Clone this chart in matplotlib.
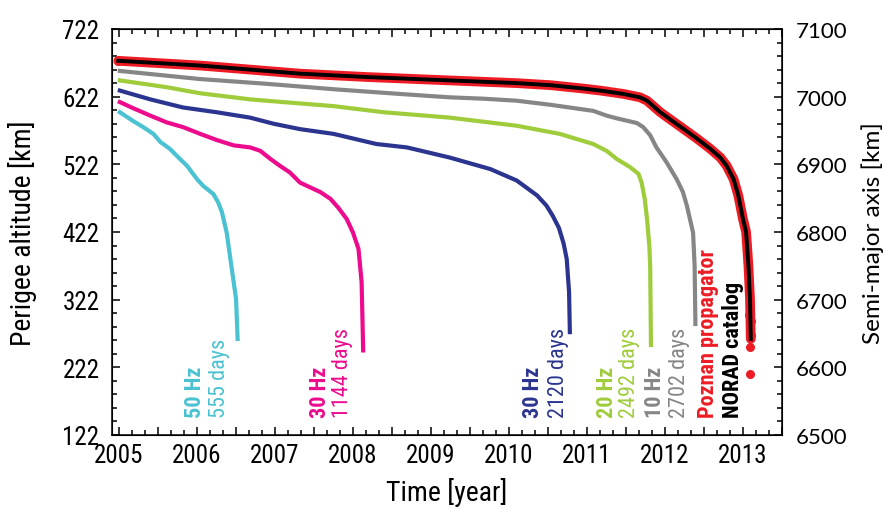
import matplotlib
matplotlib.use('Agg')
import matplotlib.pyplot as plt
from matplotlib.ticker import MultipleLocator, FixedLocator, FuncFormatter

plt.rcParams['font.family'] = ['Roboto Condensed', 'Roboto', 'DejaVu Sans']

# Perigee altitude decay curves [year, km]
hz50_t = [2005.01, 2005.18, 2005.31, 2005.44, 2005.53, 2005.65, 2005.78, 2005.87, 2006.00, 2006.08, 2006.21,
          2006.27, 2006.32, 2006.34, 2006.38, 2006.44, 2006.50, 2006.52]
hz50_h = [599, 586, 577, 567, 555, 545, 530, 520, 500, 490, 478, 466, 451, 441, 421, 372, 323, 264]

hz30a_t = [2005.01, 2005.18, 2005.40, 2005.61, 2005.82, 2006.04, 2006.25, 2006.47, 2006.68, 2006.81, 2006.94,
           2007.06, 2007.19, 2007.32, 2007.45, 2007.58, 2007.71, 2007.81, 2007.92, 2008.00, 2008.07, 2008.11, 2008.13]
hz30a_h = [614, 605, 594, 584, 577, 567, 558, 550, 547, 542, 530, 520, 510, 495, 488, 481, 471, 458, 441, 421,
           397, 348, 247]

hz30b_t = [2005.01, 2005.40, 2005.82, 2006.25, 2006.68, 2006.98, 2007.32, 2007.75, 2008.30, 2008.69, 2009.24,
           2009.76, 2010.10, 2010.36, 2010.48, 2010.56, 2010.64, 2010.70, 2010.74, 2010.77, 2010.78]
hz30b_h = [631, 618, 606, 599, 591, 582, 574, 567, 552, 547, 532, 515, 498, 476, 461, 446, 428, 405, 382, 333, 274]

hz20_t = [2005.01, 2005.61, 2006.04, 2006.68, 2007.10, 2007.75, 2008.39, 2009.24, 2010.10, 2010.65, 2011.08,
          2011.25, 2011.38, 2011.55, 2011.66, 2011.70, 2011.74, 2011.77, 2011.80, 2011.81, 2011.82]
hz20_h = [646, 636, 627, 618, 614, 608, 599, 591, 579, 567, 552, 542, 530, 518, 508, 495, 471, 441, 400, 372, 255]

hz10_t = [2005.01, 2005.61, 2006.04, 2006.89, 2007.75, 2008.60, 2009.24, 2009.67, 2010.10, 2010.53, 2011.08,
          2011.25, 2011.38, 2011.64, 2011.72, 2011.81, 2011.89, 2012.02, 2012.15, 2012.23, 2012.28, 2012.32,
          2012.36, 2012.38, 2012.39]
hz10_h = [660, 653, 648, 641, 633, 626, 621, 619, 616, 610, 601, 594, 590, 583, 577, 565, 547, 525, 500, 481,
          461, 441, 421, 372, 286]

norad_t = [2004.99, 2006.04, 2007.32, 2008.18, 2009.24, 2009.67, 2010.10, 2010.53, 2010.95, 2011.17, 2011.47,
           2011.68, 2011.77, 2011.85, 2011.94, 2012.06, 2012.23, 2012.41, 2012.58, 2012.71, 2012.79, 2012.88,
           2012.94, 2013.00, 2013.04, 2013.07, 2013.09, 2013.10]
norad_h = [675, 668, 656, 651, 646, 644, 642, 639, 634, 631, 626, 621, 616, 608, 599, 589, 575, 560, 545, 532,
           520, 500, 476, 441, 422, 372, 323, 264]

poznan_t = norad_t
poznan_h = norad_h
poznan_dots_t = [2004.99, 2013.08, 2013.10, 2013.09, 2013.10, 2013.09, 2013.09]
poznan_dots_h = [675, 300, 290, 280, 270, 252, 212]

curves = [
    (hz50_t, hz50_h, '#4ac2d2', '50 Hz', '555 days', 2005.97, 2006.29),
    (hz30a_t, hz30a_h, '#ec0b8d', '30 Hz', '1144 days', 2007.58, 2007.87),
    (hz30b_t, hz30b_h, '#2b3590', '30 Hz', '2120 days', 2010.31, 2010.63),
    (hz20_t, hz20_h, '#9fcc3b', '20 Hz', '2492 days', 2011.26, 2011.55),
    (hz10_t, hz10_h, '#868686', '10 Hz', '2702 days', 2011.87, 2012.19),
]

fig = plt.figure(figsize=(8.85, 5.10), dpi=100)
ax = fig.add_axes([0.1266, 0.1451, 0.757, 0.7961])

label_y = 149
fs_note = 16
for t, h, c, hz, days, x1, x2 in curves:
    ax.plot(t, h, color=c, lw=3.0, solid_joinstyle='round')
    ax.text(x1, label_y, hz, rotation=90, ha='center', va='bottom', color=c,
            fontsize=fs_note, fontweight='bold')
    ax.text(x2, label_y, days, rotation=90, ha='center', va='bottom', color=c,
            fontsize=fs_note)

ax.plot(poznan_t, poznan_h, color='#ed1c24', lw=7, solid_capstyle='round', solid_joinstyle='round')
ax.plot(poznan_dots_t, poznan_dots_h, 'o', color='#ed1c24', ms=6.5, mec='none')
ax.plot(norad_t, norad_h, color='black', lw=2.8, solid_joinstyle='round')

ax.text(2012.55, label_y, 'Poznan propagator', rotation=90, ha='center', va='bottom',
        color='#ed1c24', fontsize=fs_note, fontweight='bold')
ax.text(2012.87, label_y, 'NORAD catalog', rotation=90, ha='center', va='bottom',
        color='black', fontsize=fs_note, fontweight='bold')

ax.set_xlim(2004.91, 2013.5)
ax.set_ylim(122, 722)
ax.xaxis.set_major_locator(MultipleLocator(0.5))
ax.xaxis.set_minor_locator(MultipleLocator(1 / 6))
ax.xaxis.set_major_formatter(FuncFormatter(lambda v, p: f'{v:.0f}' if abs(v - round(v)) < 1e-6 else ''))
ax.yaxis.set_major_locator(FixedLocator(range(122, 723, 100)))
ax.yaxis.set_minor_locator(FixedLocator(range(122, 723, 20)))
ax.tick_params(which='both', direction='in', top=True, right=False, width=1.1, labelsize=18)
ax.tick_params(which='major', length=6)
ax.tick_params(which='minor', length=3.5)
ax.tick_params(axis='x', pad=6)
ax.tick_params(axis='y', pad=9)
for s in ax.spines.values():
    s.set_linewidth(1.1)

ax.set_xlabel('Time [year]', fontsize=20, va='center')
ax.xaxis.set_label_coords(0.5, -0.14)
ax.set_ylabel('Perigee altitude [km]', fontsize=20, va='center')
ax.yaxis.set_label_coords(-0.134, 0.5)

# semi-major axis = perigee altitude + 6378 km
ax2 = ax.twinx()
ax2.set_ylim(6500, 7100)
ax2.yaxis.set_major_locator(MultipleLocator(100))
ax2.yaxis.set_minor_locator(MultipleLocator(20))
ax2.tick_params(which='both', direction='in', width=1.1, labelsize=16, pad=10)
ax2.tick_params(which='major', length=6)
ax2.tick_params(which='minor', length=3.5)
for lbl in ax2.get_yticklabels():
    lbl.set_fontfamily(['Lato', 'DejaVu Sans'])
ax2.set_ylabel('Semi-major axis [km]', fontsize=17.5, va='center', fontfamily=['Lato', 'DejaVu Sans'])
ax2.yaxis.set_label_coords(1.136, 0.5)

fig.savefig('out.png', dpi=100)
